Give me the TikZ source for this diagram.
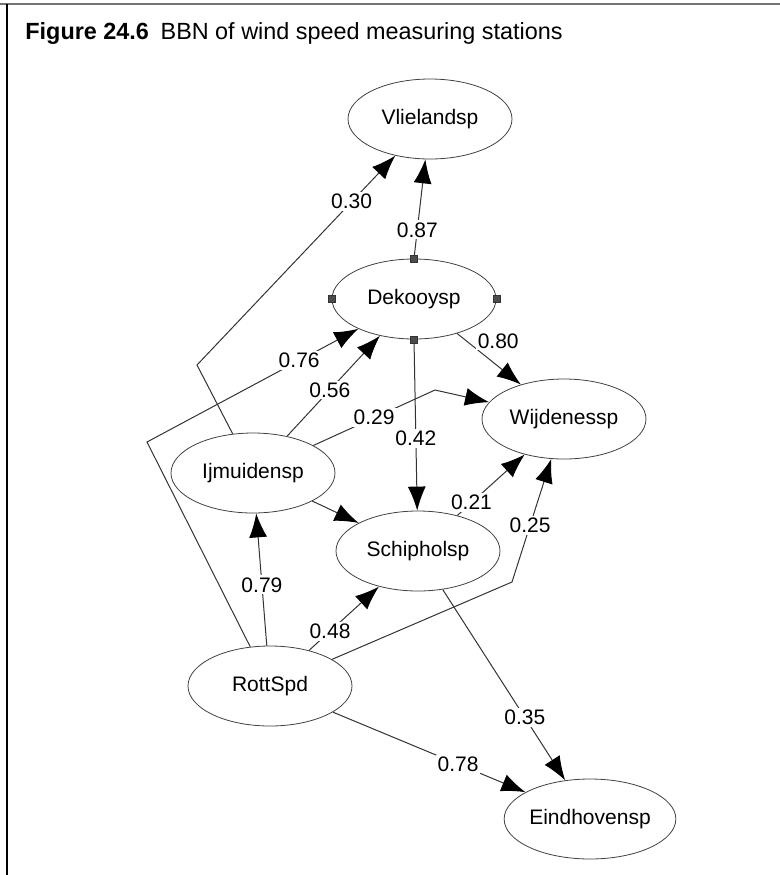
\documentclass[tikz,border=0pt]{standalone}
\usepackage{fontspec}
\setmainfont{Liberation Sans}
\usetikzlibrary{arrows.meta,shapes.geometric}

\begin{document}
\begin{tikzpicture}[
  x=0.5pt, y=-0.5pt,
  station/.style={ellipse, draw=black!75, line width=0.4pt, minimum width=82pt, minimum height=40pt, inner sep=0pt, font=\fontsize{10.5}{12}\selectfont},
  link/.style={draw=black!80, line width=0.5pt, -{Latex[length=12pt,width=9pt,black]}},
  weight/.style={fill=white, inner sep=1pt, font=\fontsize{10.5}{12}\selectfont},
  handle/.style={rectangle, fill=black!70, draw=black!80, minimum size=3.5pt, inner sep=0pt}
]
\useasboundingbox (0,0) rectangle (780,875);
\draw[black!55, line width=1.2pt] (0,4) -- (780,4);
\draw[line width=0.9pt] (7,4) -- (7,875);
\node[anchor=base west, inner sep=0pt, font=\fontsize{11.7}{14}\selectfont] (title) at (25,39)
  {\textbf{Figure 24.6}\enspace BBN of wind speed measuring stations};

\node[station] (vli) at (430,119) {Vlielandsp};
\node[station] (dek) at (414,299) {Dekooysp};
\node[station] (wij) at (564,419) {Wijdenessp};
\node[station] (ijm) at (253,473) {Ijmuidensp};
\node[station] (sch) at (418,551) {Schipholsp};
\node[station] (rot) at (270,686) {RottSpd};
\node[station] (ein) at (590,819) {Eindhovensp};

\coordinate (b30) at (197,365);
\coordinate (b76) at (147,442);
\coordinate (b29) at (435,390);
\coordinate (b25) at (512,582);

\draw[link] (ijm) -- (b30) -- node[weight, pos=.78] {0.30} (vli);
\draw[link] (dek.north) -- node[weight, pos=.29] {0.87} (vli);
\draw[link] (rot) -- (b76) -- node[weight, pos=.72] {0.76} (dek);
\draw[link] (ijm) -- node[weight, pos=.46] {0.56} (dek);
\draw[link] (ijm) -- node[weight, pos=.5] {0.29} (b29) -- (wij);
\draw[link] (dek) -- node[weight, pos=.3, xshift=11pt, yshift=4pt] {0.80} (wij);
\draw[link] (dek.south) -- node[weight, pos=.58] {0.42} (sch);
\draw[link] (ijm) -- (sch);
\draw[link] (sch) -- node[weight, pos=.21] {0.21} (wij);
\draw[link] (rot) -- (b25) -- node[weight, pos=.46] {0.25} (wij);
\draw[link] (rot) -- node[weight, pos=.46] {0.79} (ijm);
\draw[link] (rot) -- node[weight, pos=.3] {0.48} (sch);
\draw[link] (sch) -- node[weight, pos=.67] {0.35} (ein);
\draw[link] (rot) -- node[weight, pos=.65] {0.78} (ein);

\node[handle] (dekn) at (dek.north) {};
\node[handle] (dekw) at (dek.west) {};
\node[handle] (deke) at (dek.east) {};
\node[handle] (deks) at (dek.south) {};
\end{tikzpicture}
\end{document}
